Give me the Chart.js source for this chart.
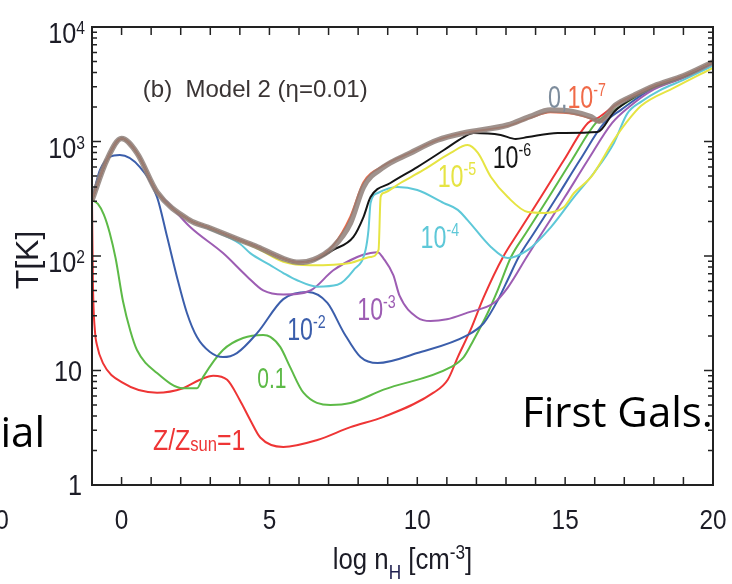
<!DOCTYPE html>
<html>
<head>
<meta charset="utf-8">
<script src="https://cdn.jsdelivr.net/npm/chart.js@4.4.1/dist/chart.umd.min.js"></script>
<style>
  body { margin: 0; background: #fff; }
  canvas { display: block; }
</style>
</head>
<body>
<canvas id="chart" width="732" height="584"></canvas>
<script>
// tick labels
const xTicks = [0, 5, 10, 15, 20];
const yTicks = [1, 10, 100, 1000, 10000];
const yTickText = [['1', ''], ['10', ''], ['10', '2'], ['10', '3'], ['10', '4']];

// temperature tracks, [log nH, T]
const zZero = [[-1,308],[-0.5,689],[0,1060],[0.52,794],[1.2,362],[2.3,206],[2.9,179],[4.0,138],[4.6,120],[5.47,95],[6.0,88],[6.5,93],[7.16,120],[7.74,194],[8.18,401],[8.86,598],[9.77,794],[10.69,1030],[11.57,1186],[13.06,1393],[13.8,1650],[14.5,1880],[15.3,1810],[15.88,1640],[16.15,1500],[16.7,2080],[17.34,2540],[18.0,3050],[19.0,3750],[20,4950]];
const z1e7 = [[-1,308],[-0.5,689],[0,1060],[0.52,794],[1.2,362],[2.3,206],[2.9,179],[4.0,138],[4.6,120],[5.47,95],[6.0,88],[6.5,93],[7.16,124],[7.74,222],[8.18,440],[8.86,615],[9.77,800],[10.69,1030],[11.57,1186],[13.06,1370],[13.8,1600],[14.5,1800],[15.3,1740],[15.88,1580],[16.15,1480],[16.7,2080],[17.34,2540],[18.0,3050],[19.0,3750],[20,4950]];
const z1e6 = [[-1,308],[-0.5,689],[0,1060],[0.52,794],[1.2,362],[2.3,206],[2.9,179],[4.0,138],[4.6,120],[5.47,95],[6.0,88],[6.5,92],[7.16,113],[7.84,147],[8.18,219],[8.42,327],[9.09,434],[10.0,598],[10.9,843],[11.57,1093],[11.9,1186],[12.82,1140],[13.33,1052],[13.74,1093],[14.75,1186],[16.1,1210],[16.65,1813],[17.34,2450],[18.0,3000],[19.0,3700],[20,4940]];
const z1e5 = [[-1,308],[-0.5,689],[0,1060],[0.52,794],[1.2,362],[2.3,206],[2.9,179],[4.0,136],[4.6,116],[5.47,89],[6.39,83],[7.74,87],[8.42,98],[8.69,113],[8.76,327],[8.86,355],[9.43,434],[10.21,564],[11.13,794],[11.7,931],[12.05,794],[12.49,490],[13.06,327],[13.74,242],[14.29,238],[14.96,268],[15.3,355],[15.88,490],[16.65,1030],[17.06,1452],[17.57,2050],[18.69,2950],[20,4400]];
const z1e4 = [[-1,308],[-0.5,689],[0,1060],[0.52,794],[1.2,362],[2.3,206],[2.9,175],[4.0,128],[4.35,106],[5.0,84],[5.47,71],[5.9,62],[6.62,54],[7.3,56],[7.84,75],[8.25,113],[8.35,169],[8.42,290],[8.66,355],[9.33,401],[10.0,377],[10.9,290],[11.37,253],[11.7,206],[12.49,120],[13.06,96],[13.74,113],[14.52,179],[15.3,327],[15.97,531],[16.65,971],[17.1,1750],[17.6,2250],[18.2,2800],[19.0,3450],[20,4600]];
const z1e3 = [[-1,308],[-0.5,689],[0,1060],[0.52,794],[1.2,362],[1.54,296],[2.32,179],[3.43,106],[4.25,66],[4.79,50],[5.47,46],[6.39,50],[7.16,75],[7.97,98],[8.42,106],[8.66,108],[8.86,95],[9.19,68],[9.4,45],[10.0,29],[10.45,27],[11.0,28],[11.7,32],[12.6,39],[13.06,53],[13.7,98],[14.21,158],[14.99,327],[15.77,689],[16.59,1452],[17.16,2000],[18.0,2850],[19.0,3600],[20,4800]];
const z1e2 = [[-1,308],[-0.73,564],[-0.06,762],[0.62,598],[1.2,327],[1.54,147],[1.87,66],[2.21,31.8],[2.55,19.6],[2.99,14.5],[3.43,13.1],[3.9,14.2],[4.59,21.3],[5.47,42],[6.3,48.5],[6.96,38.9],[7.52,21.3],[8.08,13.1],[8.66,11.6],[10.0,14.2],[11.7,20.4],[12.25,26],[12.72,41],[13.06,62],[13.43,98],[13.94,158],[14.72,327],[15.5,689],[16.32,1452],[16.9,1900],[17.9,2850],[19,3650],[20,4900]];
const z1e1 = [[-1,308],[-0.8,285],[-0.6,230],[-0.4,159],[-0.2,95],[0.05,40],[0.3,22],[0.52,15.1],[1.2,9.5],[2.08,7.0],[2.55,7.0],[2.76,8.8],[3.43,15.1],[4.11,19.2],[4.79,20.4],[5.03,19.7],[5.37,16],[5.7,10.7],[6.15,6.4],[7.06,5.0],[7.74,5.2],[8.86,6.8],[11.13,10.7],[11.57,13.1],[11.9,18.4],[12.38,31.8],[12.72,50.4],[13.17,98],[13.67,158],[14.45,327],[15.23,689],[16.04,1452],[16.55,1800],[17.9,2900],[19,3700],[20,4940]];
const zSun = [[-1,308],[-0.97,60],[-0.9,22],[-0.84,17],[-0.63,11.6],[0.05,7.8],[1.2,6.4],[2.08,7.0],[2.65,8.3],[3.1,9.0],[3.57,8.3],[4.0,5.5],[4.35,3.7],[4.69,2.6],[5.47,2.15],[6.62,2.47],[7.74,3.2],[8.86,3.93],[10.55,6.4],[11.03,8.3],[11.37,13.1],[11.8,22.6],[12.25,43.9],[12.9,98],[13.4,158],[14.18,327],[14.96,689],[15.77,1452],[16.1,1600],[16.7,2080],[17.34,2540],[18.0,3050],[19.0,3750],[20,4950]];

const RED = '#ee3535', GREEN = '#5dba47', BLUE = '#3b5eab', PURPLE = '#9d5db3',
      CYAN = '#5ec8d8', YELLOW = '#e6e443', BLACK = '#151515', GRAY = 'rgba(142,127,121,0.85)', ORANGE = '#f06a48';

const SANS = '"Liberation Sans", Arial, sans-serif';

// curve labels: data position (left edge, baseline), horizontal squeeze
const notes = [
  { x: 0.72, y: 2450, sx: 1, color: '#3a3434', parts: [['(b)  Model 2 (\u03b7=0.01)', '24px ' + SANS, 0]] },
  { x: 14.42, y: 1963, sx: 0.75, color: ORANGE, parts: [['0,', '31px ' + SANS, 0, '#7d8c9c'], ['10', '31px ' + SANS, 0], ['-7', '19px ' + SANS, -12]] },
  { x: 12.55, y: 588, sx: 0.75, color: BLACK, parts: [['10', '31px ' + SANS, 0], ['-6', '19px ' + SANS, -12]] },
  { x: 10.69, y: 401, sx: 0.75, color: YELLOW, parts: [['10', '31px ' + SANS, 0], ['-5', '19px ' + SANS, -12]] },
  { x: 10.11, y: 117, sx: 0.75, color: CYAN, parts: [['10', '31px ' + SANS, 0], ['-4', '19px ' + SANS, -12]] },
  { x: 7.97, y: 27.6, sx: 0.75, color: PURPLE, parts: [['10', '31px ' + SANS, 0], ['-3', '19px ' + SANS, -12]] },
  { x: 5.6, y: 18.5, sx: 0.75, color: BLUE, parts: [['10', '31px ' + SANS, 0], ['-2', '19px ' + SANS, -12]] },
  { x: 4.59, y: 7.03, sx: 0.7, color: GREEN, parts: [['0.1', '30px ' + SANS, 0]] },
  { x: 1.06, y: 2.02, sx: 0.83, color: RED, parts: [['Z/Z', '30px ' + SANS, 0], ['sun', '20px ' + SANS, 1], ['=1', '30px ' + SANS, 0]] }
];

function drawRuns(ctx, parts, x, y, align, color, sx) {
  sx = sx || 1;
  let w = 0;
  parts.forEach(p => { ctx.font = p[1]; w += ctx.measureText(p[0]).width; });
  const start = align === 'right' ? x - w * sx : align === 'center' ? x - w * sx / 2 : x;
  ctx.save();
  ctx.translate(start, y);
  ctx.scale(sx, 1);
  ctx.textAlign = 'left';
  ctx.textBaseline = 'alphabetic';
  let ox = 0;
  parts.forEach(p => {
    ctx.font = p[1];
    ctx.fillStyle = p[3] || color;
    ctx.fillText(p[0], ox, p[2]);
    ox += ctx.measureText(p[0]).width;
  });
  ctx.restore();
}

const frame = {
  id: 'frame',
  beforeDraw(chart) {
    const ctx = chart.ctx;
    ctx.save();
    ctx.fillStyle = '#fff';
    ctx.fillRect(0, 0, chart.width, chart.height);
    ctx.restore();
  },
  afterDraw(chart) {
    const ctx = chart.ctx, a = chart.chartArea;
    const xs = chart.scales.x, ys = chart.scales.y;
    ctx.save();

    // curve labels
    notes.forEach(n => drawRuns(ctx, n.parts, xs.getPixelForValue(n.x), ys.getPixelForValue(n.y), 'left', n.color, n.sx));

    // box and inward ticks
    ctx.strokeStyle = '#222';
    ctx.lineWidth = 2;
    ctx.strokeRect(a.left, a.top, a.right - a.left, a.bottom - a.top);
    ctx.lineWidth = 1.5;
    ctx.beginPath();
    for (let v = Math.ceil(xs.min); v <= xs.max; v++) {
      const px = xs.getPixelForValue(v);
      ctx.moveTo(px, a.bottom); ctx.lineTo(px, a.bottom - 8);
      ctx.moveTo(px, a.top); ctx.lineTo(px, a.top + 8);
    }
    for (let dec = 1; dec < ys.max; dec *= 10) {
      for (let k = 1; k <= 9; k++) {
        const py = ys.getPixelForValue(k * dec);
        const len = k === 1 ? 9 : 5;
        ctx.moveTo(a.left, py); ctx.lineTo(a.left + len, py);
        ctx.moveTo(a.right, py); ctx.lineTo(a.right - len, py);
      }
    }
    ctx.stroke();

    // tick labels
    const INK = '#1c1c26';
    xTicks.forEach(v => drawRuns(ctx, [[String(v), '28px ' + SANS, 0]], xs.getPixelForValue(v), a.bottom + 44, 'center', INK, 0.87));
    yTicks.forEach((v, i) => {
      const py = ys.getPixelForValue(v);
      const t = yTickText[i];
      if (t[1]) {
        drawRuns(ctx, [[t[0], '29px ' + SANS, 0], [t[1], '18px ' + SANS, -9]], a.left - 7, py + 16, 'right', INK, 0.87);
      } else {
        drawRuns(ctx, [[t[0], '29px ' + SANS, 0]], a.left - 10, py + 10, 'right', INK, 0.87);
      }
    });

    // axis titles
    drawRuns(ctx, [['log n', '30px ' + SANS, 0], ['H', '20px ' + SANS, 10, '#202050'], [' [cm', '30px ' + SANS, 0], ['-3', '20px ' + SANS, -10], [']', '30px ' + SANS, 0]],
      (a.left + a.right) / 2, a.bottom + 84, 'center', INK, 0.86);
    ctx.save();
    ctx.translate(38, (a.top + a.bottom) / 2 + 4);
    ctx.rotate(-Math.PI / 2);
    drawRuns(ctx, [['T[K]', '32px ' + SANS, 0]], 0, 0, 'center', INK, 1);
    ctx.restore();

    // slide text around the figure
    drawRuns(ctx, [['ial', '42px "Open Sans", sans-serif', 0]], 45, 447, 'right', '#000');
    drawRuns(ctx, [['First Gals.', '42px "Open Sans", sans-serif', 0]], 522, 427, 'left', '#000');
    drawRuns(ctx, [['0', '28px ' + SANS, 0]], 2, a.bottom + 44, 'center', INK, 0.87);
    ctx.restore();
  }
};

function track(label, arr, color, width) {
  return {
    label: label,
    data: arr.map(p => ({ x: p[0], y: p[1] })),
    borderColor: color,
    borderWidth: width,
    pointRadius: 0,
    fill: false,
    cubicInterpolationMode: 'monotone'
  };
}

new Chart(document.getElementById('chart'), {
  type: 'line',
  data: {
    datasets: [
      track('0', zZero, GRAY, 5.5),
      track('1e-7', z1e7, ORANGE, 2),
      track('1e-6', z1e6, BLACK, 2),
      track('1e-5', z1e5, YELLOW, 2),
      track('1e-4', z1e4, CYAN, 2),
      track('1e-3', z1e3, PURPLE, 2),
      track('1e-2', z1e2, BLUE, 2),
      track('0.1', z1e1, GREEN, 2),
      track('1', zSun, RED, 2)
    ]
  },
  options: {
    responsive: false,
    devicePixelRatio: 1,
    animation: false,
    layout: { padding: { left: 92, right: 19, top: 27, bottom: 99 } },
    plugins: { legend: { display: false }, tooltip: { enabled: false } },
    scales: {
      x: { type: 'linear', min: -1, max: 20, display: false },
      y: { type: 'logarithmic', min: 1, max: 10000, display: false }
    }
  },
  plugins: [frame]
});
</script>
</body>
</html>
